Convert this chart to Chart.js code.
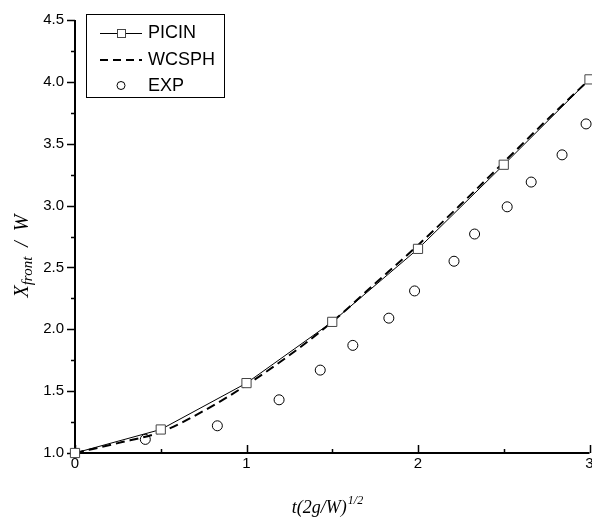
<!DOCTYPE html>
<html lang="en">
<head>
    <meta charset="UTF-8" />
    <title>Dam break front position</title>
    <script src="https://cdn.jsdelivr.net/npm/chart.js"></script>
    <style>
        html, body { margin: 0; padding: 0; background: #fff; }
        #wrap { width: 592px; height: 519px; }
    </style>
</head>

<body>
    <div id="wrap">
        <canvas id="chart" width="592" height="519"></canvas>
    </div>

    <script>
        // series
        const picinX = [0, 0.5, 1.0, 1.5, 2.0, 2.5, 3.0];
        const picinY = [1.0, 1.19, 1.565, 2.06, 2.65, 3.33, 4.02];

        const wcsphX = [0, 0.25, 0.5, 0.75, 1.0, 1.25, 1.5, 1.75, 2.0, 2.25, 2.5, 2.75, 3.0];
        const wcsphY = [1.0, 1.08, 1.17, 1.34, 1.55, 1.79, 2.06, 2.37, 2.68, 3.01, 3.35, 3.69, 4.02];

        const expX = [0.41, 0.83, 1.19, 1.43, 1.62, 1.83, 1.98, 2.21, 2.33, 2.52, 2.66, 2.84, 2.98];
        const expY = [1.11, 1.22, 1.43, 1.67, 1.87, 2.09, 2.31, 2.55, 2.77, 2.99, 3.19, 3.41, 3.66];

        const xTicks = [0, 1, 2, 3];
        const yTicks = [1.0, 1.5, 2.0, 2.5, 3.0, 3.5, 4.0, 4.5];

        const toPts = (xs, ys) => xs.map((x, i) => ({ x: x, y: ys[i] }));

        // spines + ticks: y ticks point out, x ticks point in
        const frame = {
            id: 'frame',
            beforeDatasetsDraw(chart) {
                const { ctx, chartArea: a, scales: { x, y } } = chart;
                ctx.save();
                ctx.strokeStyle = '#000';
                ctx.lineWidth = 2;
                ctx.beginPath();
                ctx.moveTo(a.left, a.top);
                ctx.lineTo(a.left, a.bottom);
                ctx.lineTo(a.right, a.bottom);
                ctx.stroke();

                ctx.lineWidth = 1.5;
                ctx.beginPath();
                for (let i = 0; i < yTicks.length; i++) {
                    const py = Math.round(y.getPixelForValue(yTicks[i])) + 0.5;
                    ctx.moveTo(a.left, py);
                    ctx.lineTo(a.left - 8, py);
                    if (i < yTicks.length - 1) {
                        const pm = Math.round(y.getPixelForValue((yTicks[i] + yTicks[i + 1]) / 2)) + 0.5;
                        ctx.moveTo(a.left, pm);
                        ctx.lineTo(a.left - 4, pm);
                    }
                }
                for (let i = 0; i < xTicks.length; i++) {
                    const px = Math.round(x.getPixelForValue(xTicks[i])) + 0.5;
                    ctx.moveTo(px, a.bottom);
                    ctx.lineTo(px, a.bottom - 8);
                    if (i < xTicks.length - 1) {
                        const pm = Math.round(x.getPixelForValue((xTicks[i] + xTicks[i + 1]) / 2)) + 0.5;
                        ctx.moveTo(pm, a.bottom);
                        ctx.lineTo(pm, a.bottom - 4);
                    }
                }
                ctx.stroke();
                ctx.restore();
            }
        };

        // axis titles with sub/superscript + boxed legend
        const extras = {
            id: 'extras',
            afterDraw(chart) {
                const { ctx } = chart;
                ctx.save();
                ctx.fillStyle = '#000';
                ctx.textBaseline = 'alphabetic';

                // x title: t(2g/W)^1/2
                const big = 'italic 18px "Liberation Serif", serif';
                const small = 'italic 12px "Liberation Serif", serif';
                ctx.font = big;
                const w1 = ctx.measureText('t(2g/W)').width;
                ctx.font = small;
                const w2 = ctx.measureText('1/2').width;
                let sx = 327 - (w1 + w2) / 2;
                ctx.font = big;
                ctx.fillText('t(2g/W)', sx, 513);
                ctx.font = small;
                ctx.fillText('1/2', sx + w1 + 1, 504);

                // y title: X_front / W, rotated
                ctx.translate(28, 256);
                ctx.rotate(-Math.PI / 2);
                const yb = 'italic 20px "Liberation Serif", serif';
                const ys = 'italic 15px "Liberation Serif", serif';
                ctx.font = yb;
                const t1 = ctx.measureText('X').width;
                const t3 = ctx.measureText('  /  W').width;
                ctx.font = ys;
                const t2 = ctx.measureText('front').width;
                let ty = -(t1 + t2 + t3) / 2;
                ctx.font = yb;
                ctx.fillText('X', ty, 0);
                ctx.font = ys;
                ctx.fillText('front', ty + t1, 4);
                ctx.font = yb;
                ctx.fillText('  /  W', ty + t1 + t2, 0);
                ctx.restore();

                // legend
                ctx.save();
                ctx.strokeStyle = '#000';
                ctx.lineWidth = 1;
                ctx.strokeRect(86.5, 14.5, 138, 83);

                ctx.beginPath();
                ctx.moveTo(100, 33.5);
                ctx.lineTo(142, 33.5);
                ctx.stroke();
                ctx.fillStyle = '#fff';
                ctx.strokeStyle = '#444';
                ctx.fillRect(117.5, 29.5, 8, 8);
                ctx.strokeRect(117.5, 29.5, 8, 8);

                ctx.strokeStyle = '#000';
                ctx.lineWidth = 2;
                ctx.setLineDash([8, 5]);
                ctx.beginPath();
                ctx.moveTo(100, 60);
                ctx.lineTo(142, 60);
                ctx.stroke();
                ctx.setLineDash([]);

                ctx.lineWidth = 1;
                ctx.beginPath();
                ctx.arc(121, 85.5, 4, 0, Math.PI * 2);
                ctx.stroke();

                ctx.fillStyle = '#000';
                ctx.font = '18px "Liberation Sans", Arial, sans-serif';
                ctx.textBaseline = 'middle';
                ctx.fillText('PICIN', 148, 33);
                ctx.fillText('WCSPH', 148, 60);
                ctx.fillText('EXP', 148, 86);
                ctx.restore();
            }
        };

        const tickFont = { family: '"Liberation Sans", Arial, sans-serif', size: 15 };

        new Chart(document.getElementById('chart'), {
            type: 'scatter',
            data: {
                datasets: [
                    {
                        label: 'PICIN',
                        data: toPts(picinX, picinY),
                        showLine: true,
                        borderColor: '#000',
                        borderWidth: 1,
                        tension: 0,
                        pointStyle: 'rect',
                        pointRadius: 6.5,
                        pointBorderColor: '#444',
                        pointBackgroundColor: '#fff',
                        pointBorderWidth: 1,
                        clip: false,
                        order: 1
                    },
                    {
                        label: 'WCSPH',
                        data: toPts(wcsphX, wcsphY),
                        showLine: true,
                        borderColor: '#000',
                        borderWidth: 2,
                        borderDash: [9, 5],
                        cubicInterpolationMode: 'monotone',
                        pointRadius: 0,
                        clip: false,
                        order: 2
                    },
                    {
                        label: 'EXP',
                        data: toPts(expX, expY),
                        showLine: false,
                        pointStyle: 'circle',
                        pointRadius: 5,
                        pointBorderColor: '#000',
                        pointBackgroundColor: 'rgba(0,0,0,0)',
                        pointBorderWidth: 1,
                        clip: false,
                        order: 3
                    }
                ]
            },
            options: {
                responsive: false,
                animation: false,
                layout: { autoPadding: false, padding: { top: 20, right: 2.5, left: 0, bottom: 0 } },
                plugins: {
                    legend: { display: false },
                    tooltip: { enabled: false }
                },
                scales: {
                    x: {
                        type: 'linear',
                        min: 0,
                        max: 3,
                        afterBuildTicks: s => { s.ticks = xTicks.map(v => ({ value: v })); },
                        grid: { display: false, drawTicks: false },
                        border: { display: false },
                        ticks: { color: '#000', font: tickFont, padding: 2, maxRotation: 0 },
                        afterFit: s => { s.height = 66; s.paddingLeft = 0; s.paddingRight = 0; }
                    },
                    y: {
                        type: 'linear',
                        min: 1,
                        max: 4.5,
                        afterBuildTicks: s => { s.ticks = yTicks.map(v => ({ value: v })); },
                        grid: { display: false, drawTicks: false },
                        border: { display: false },
                        ticks: { color: '#000', font: tickFont, padding: 11, callback: v => v.toFixed(1) },
                        afterFit: s => { s.width = 75; s.paddingTop = 0; s.paddingBottom = 0; }
                    }
                }
            },
            plugins: [frame, extras]
        });
    </script>
</body>
</html>
